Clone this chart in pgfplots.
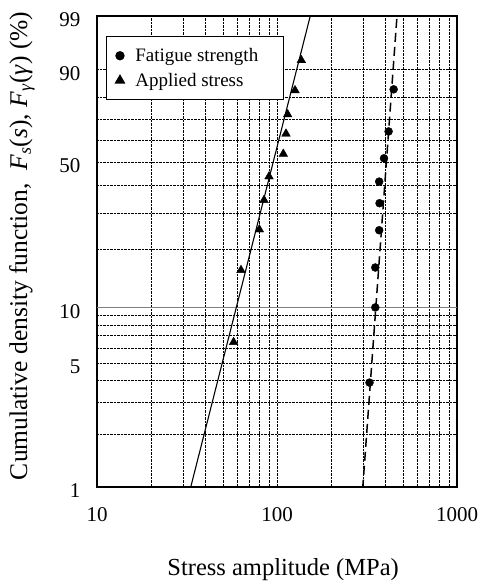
\documentclass[border=0pt]{standalone}
\usepackage{fontspec}
\setmainfont{Liberation Serif}
\usepackage{pgfplots}
\pgfplotsset{compat=1.18}

\begin{document}
\begin{tikzpicture}
\begin{axis}[
    scale only axis,
    width=360pt, height=471pt,
    xmode=log, xmin=10, xmax=1000,
    y coord trafo/.code={\pgfmathparse{ln(-ln(1-#1/100))}},
    ymin=1, ymax=99,
    ytick={1,2,3,4,5,6,7,8,9,10,20,30,40,50,60,70,80,90,99},
    yticklabels={1,,,,5,,,,,10,,,,50,,,,90,99},
    extra y ticks={10},
    extra y tick labels={},
    extra y tick style={major grid style={solid, gray, line width=0.6pt}},
    xtick={10,100,1000},
    xticklabels={10,100,1000},
    grid=both,
    major grid style={densely dotted, black, line width=0.5pt},
    minor grid style={densely dotted, black, line width=0.5pt},
    major tick length=0pt, minor tick length=0pt,
    axis line style={line width=1.5pt},
    tick label style={font=\fontsize{21}{23}\selectfont},
    /pgf/number format/assume math mode=true,
    xticklabel style={anchor=center, yshift=-28pt},
    yticklabel style={anchor=east, xshift=-13pt, yshift=-4pt},
    every axis x label/.style={at={(axis description cs:0.517,0)}, anchor=center, yshift=-83pt},
    every axis y label/.style={at={(axis description cs:0,0.512)}, anchor=center, rotate=90, yshift=75pt},
    xlabel style={font=\fontsize{24.5}{26}\selectfont},
    ylabel style={font=\fontsize{25.5}{27}\selectfont},
    xlabel={Stress amplitude (MPa)},
    ylabel={Cumulative density function,\ \ \textit{F}\textsubscript{\textit{s}}(\textit{s}), \textit{F}\textsubscript{\textit{γ}}(\textit{γ}) (\%)},
    legend style={at={(0.025,0.958)}, anchor=north west, draw=black, line width=1.3pt,
        font=\fontsize{19}{21}\selectfont, inner xsep=9pt, inner ysep=10pt, row sep=6pt,
        column sep=9pt, cells={anchor=west}},
    legend cell align=left,
]
% Weibull fit lines
\addplot[black, line width=1.1pt, forget plot] coordinates {(33.0,1) (153.1,99)};
\addplot[black, line width=1.5pt, dash pattern=on 9pt off 5pt, forget plot] coordinates {(299.2,1) (464.2,99)};
% Fatigue strength
\addplot[only marks, mark=*, mark size=4pt, black] coordinates {
    (444.6,83.1) (416.9,64.3) (393.0,51.7) (369.6,41.6) (371.4,33.4)
    (369.6,24.9) (351.6,16.2) (351.6,10.0) (326.6,3.9)
};
\addlegendentry{Fatigue strength\rule{14pt}{0pt}}
% Applied stress
\addplot[only marks, mark=triangle*, mark size=5pt, black] coordinates {
    (136.5,92.5) (125.9,82.7) (114.6,72.3) (112.2,63.2) (108.4,53.7)
    (90.3,43.7) (84.7,34.5) (79.8,25.1) (63.1,15.7) (57.4,6.5)
};
\addlegendentry{Applied stress}
\path (rel axis cs:0,0) coordinate (O);
\end{axis}
\pgfresetboundingbox
\path (O) ++(-97pt,-99pt) rectangle ++(481pt,586pt);
\end{tikzpicture}
\end{document}
